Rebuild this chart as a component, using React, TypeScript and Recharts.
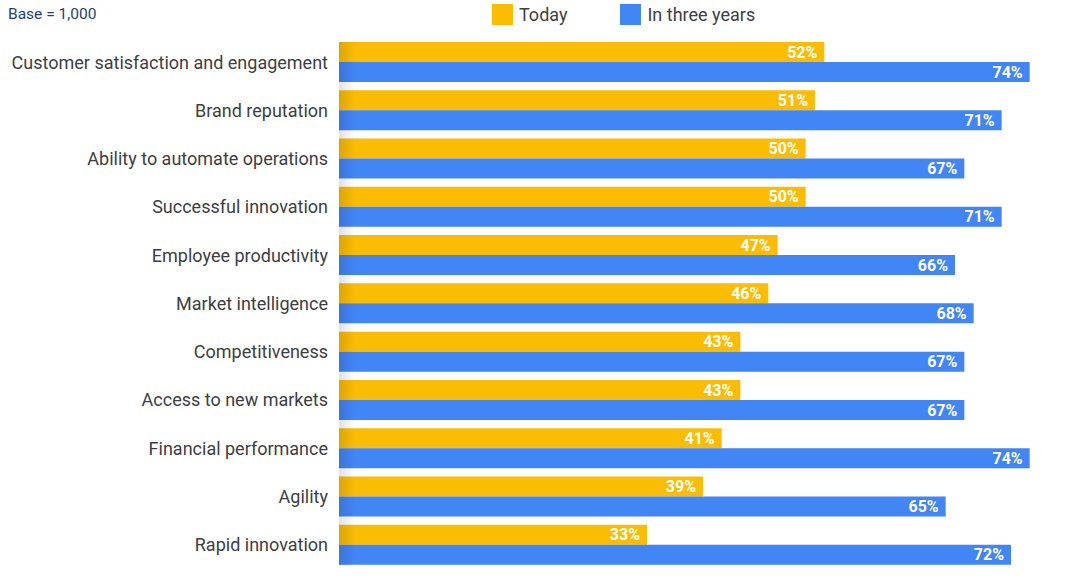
import { Bar, BarChart, LabelList, XAxis, YAxis } from "recharts";

const categories = [
  "Customer satisfaction and engagement",
  "Brand reputation",
  "Ability to automate operations",
  "Successful innovation",
  "Employee productivity",
  "Market intelligence",
  "Competitiveness",
  "Access to new markets",
  "Financial performance",
  "Agility",
  "Rapid innovation",
];
const today = [52, 51, 50, 50, 47, 46, 43, 43, 41, 39, 33];
const inThreeYears = [74, 71, 67, 71, 66, 68, 67, 67, 74, 65, 72];

const YELLOW = "#FBBC04";
const BLUE = "#4285F4";
const FONT = "Roboto, 'Noto Sans', sans-serif";

const data = categories.map((name, i) => ({
  name,
  today: today[i],
  future: inThreeYears[i],
}));

const legendItems = [
  { label: "Today", color: YELLOW },
  { label: "In three years", color: BLUE },
];

const TopLegend = () => (
  <div
    style={{
      position: "absolute",
      left: 492,
      top: 4,
      display: "flex",
      fontFamily: FONT,
      fontSize: 18,
      color: "#3c4043",
      lineHeight: "21px",
    }}
  >
    {legendItems.map((item) => (
      <div key={item.label} style={{ display: "flex", alignItems: "center", marginRight: 53 }}>
        <span style={{ width: 21, height: 21, background: item.color, marginRight: 6, display: "inline-block" }} />
        <span>{item.label}</span>
      </div>
    ))}
  </div>
);

const pct = (v: any) => `${v}%`;
const labelStyle = { fill: "#fff", fontFamily: FONT, fontWeight: 700, fontSize: 16 };

export default function App() {
  return (
    <div style={{ position: "absolute", left: 0, top: 0, width: 1069, height: 579, background: "#fff" }}>
      <div
        style={{
          position: "absolute",
          left: 8,
          top: 5,
          fontFamily: FONT,
          fontSize: 15.5,
          color: "#1f3f6e",
        }}
      >
        Base = 1,000
      </div>
      <TopLegend />
      <BarChart
        width={1069}
        height={579}
        data={data}
        layout="vertical"
        margin={{ top: 38, right: 2, bottom: 10, left: 0 }}
        barSize={20}
        barGap={0}
      >
        <XAxis type="number" domain={[0, 78]} hide />
        <YAxis
          type="category"
          dataKey="name"
          width={339}
          tickLine={false}
          axisLine={false}
          tickMargin={5}
          interval={0}
          tick={{ fontFamily: FONT, fontSize: 18, fill: "#3c4043" }}
        />
        <Bar dataKey="today" name="Today" fill={YELLOW} isAnimationActive={false}>
          <LabelList dataKey="today" position="insideRight" offset={7} formatter={pct} style={labelStyle} />
        </Bar>
        <Bar dataKey="future" name="In three years" fill={BLUE} isAnimationActive={false}>
          <LabelList dataKey="future" position="insideRight" offset={7} formatter={pct} style={labelStyle} />
        </Bar>
      </BarChart>
      {/* soft shadow along the left edge of the bars */}
      <div
        style={{
          position: "absolute",
          left: 339,
          top: 42,
          width: 16,
          height: 524,
          background: "linear-gradient(to right, rgba(0,0,0,0.12), rgba(0,0,0,0))",
          pointerEvents: "none",
        }}
      />
    </div>
  );
}
